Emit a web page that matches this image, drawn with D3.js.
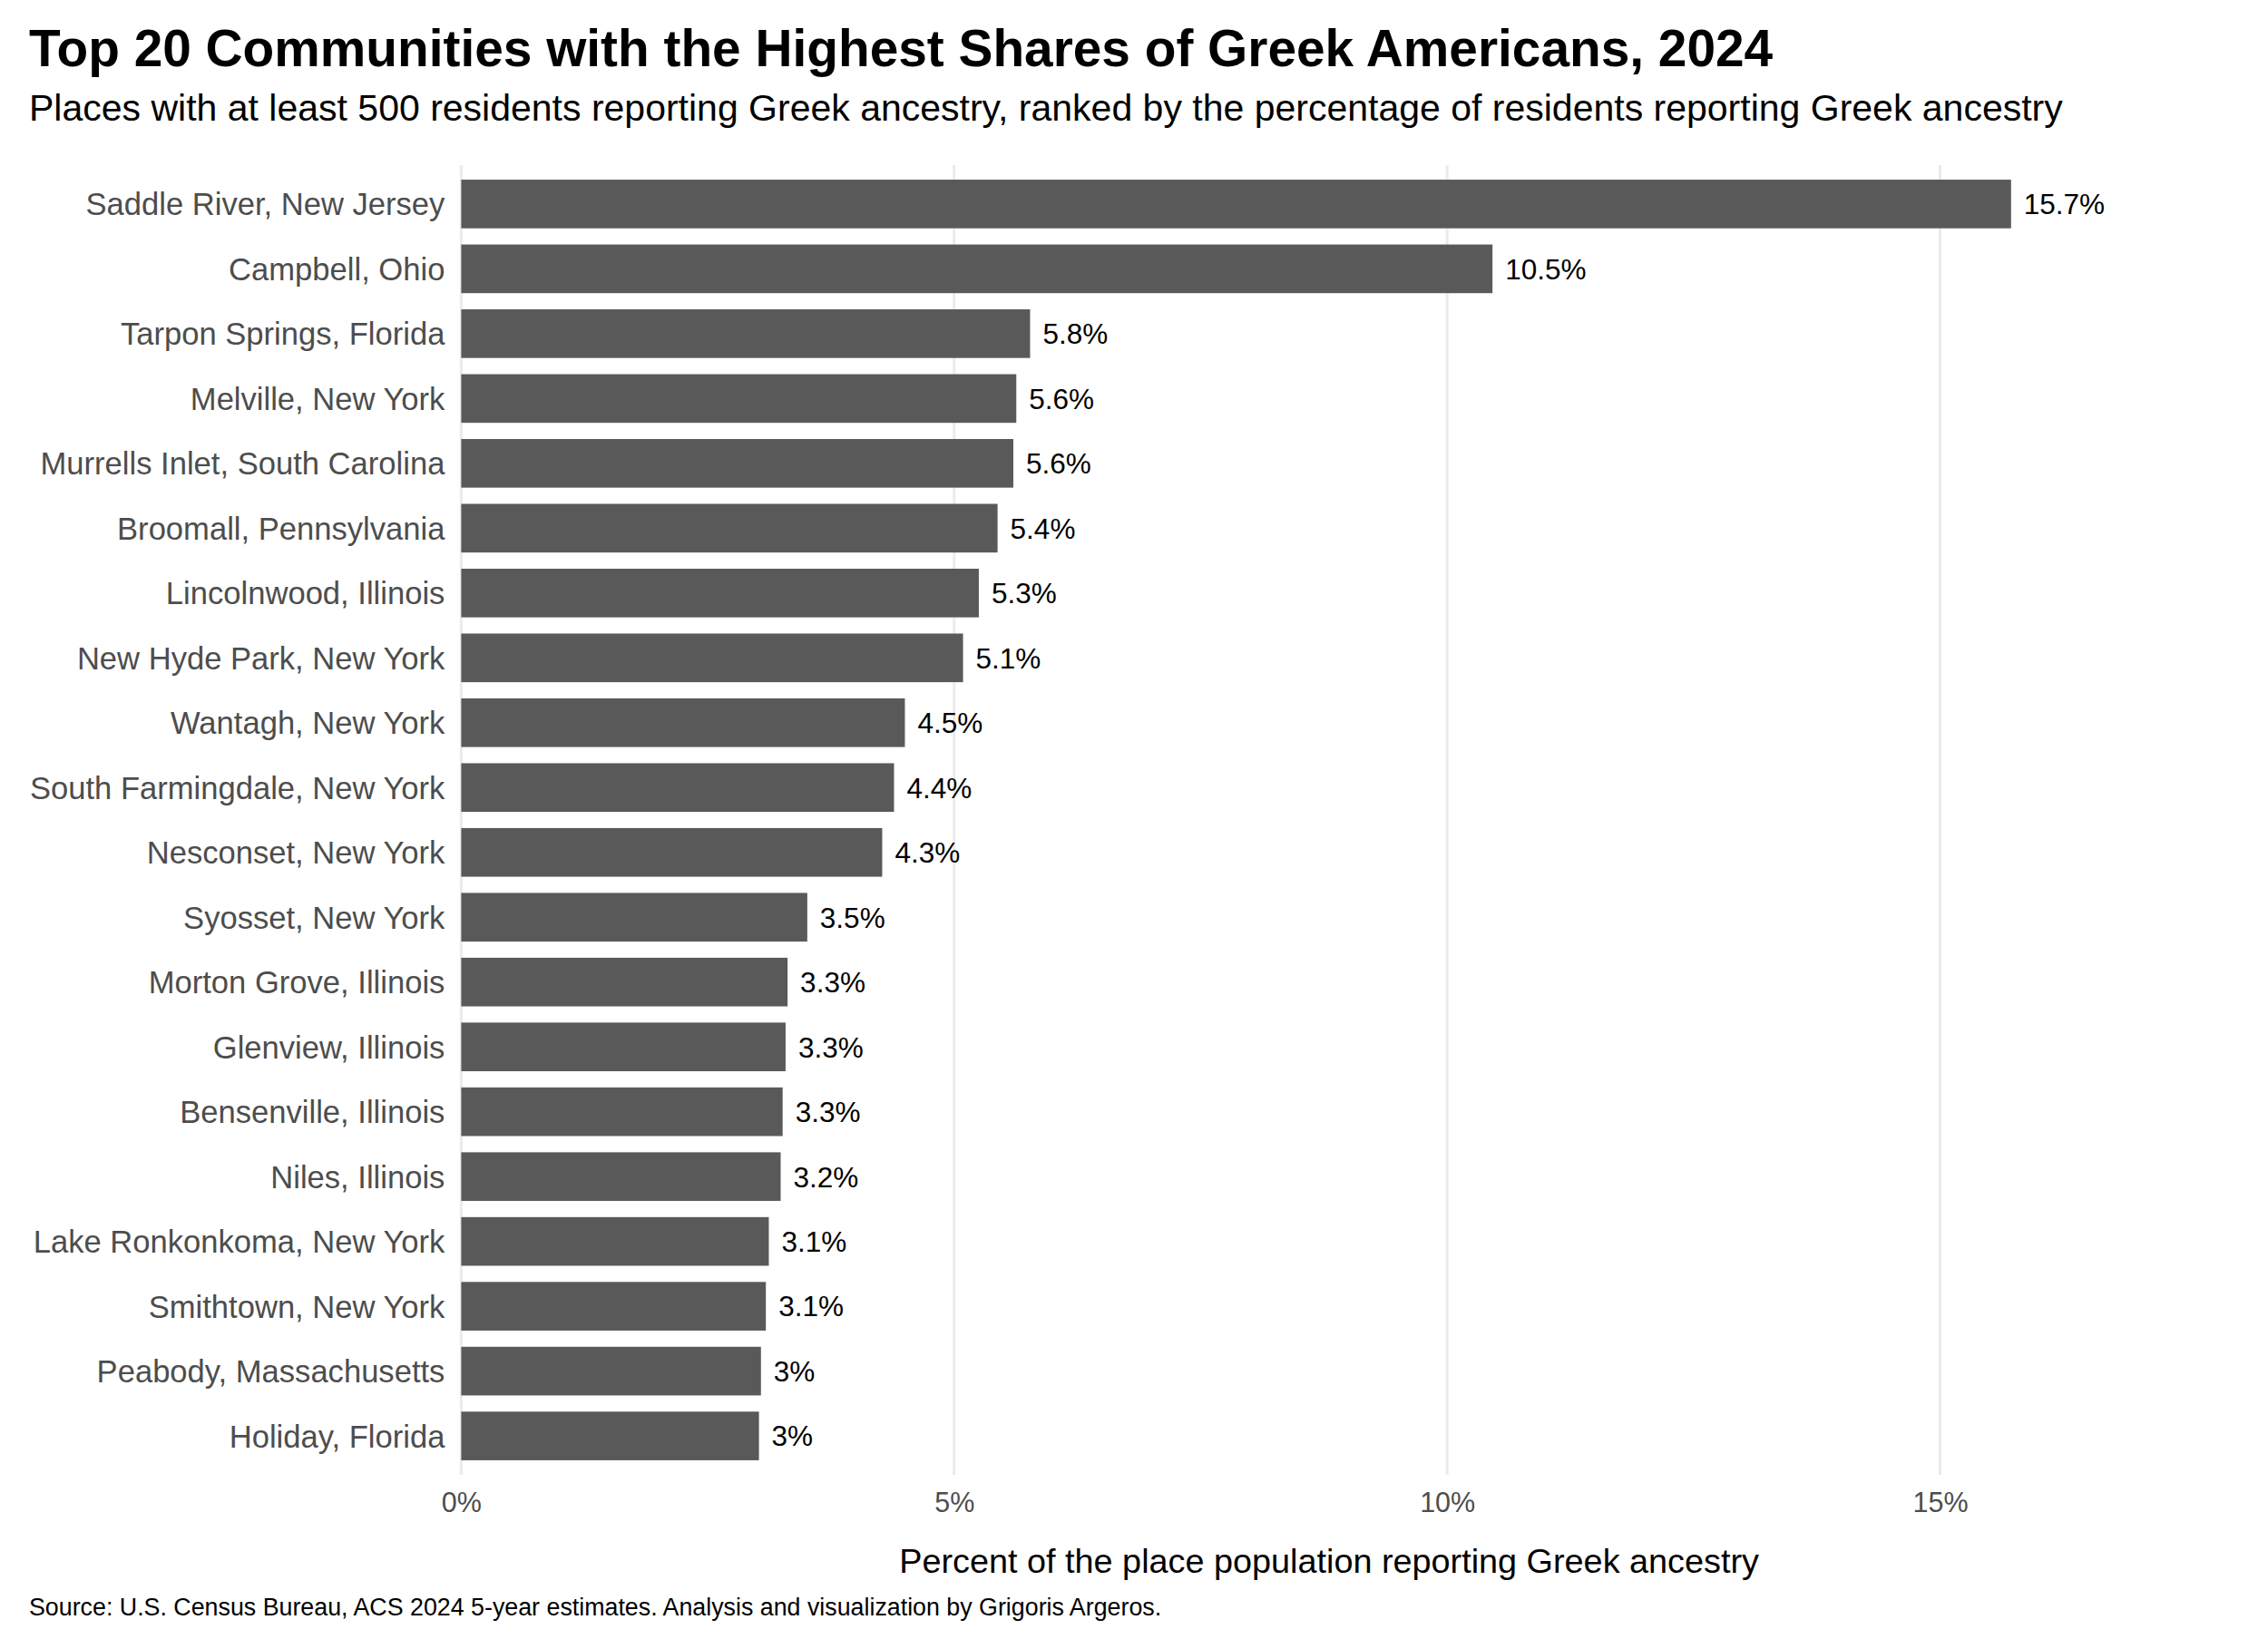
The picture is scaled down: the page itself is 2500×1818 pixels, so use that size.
<!DOCTYPE html>
<html>
<head>
<meta charset="utf-8">
<script src="https://cdn.jsdelivr.net/npm/d3@7"></script>
<style>
  html, body { margin: 0; padding: 0; background: #ffffff; }
  svg { display: block; font-family: "Liberation Sans", Arial, Helvetica, sans-serif; }
</style>
</head>
<body>
<svg id="chart" width="2500" height="1818"></svg>
<script>
const places = [
  "Saddle River, New Jersey",
  "Campbell, Ohio",
  "Tarpon Springs, Florida",
  "Melville, New York",
  "Murrells Inlet, South Carolina",
  "Broomall, Pennsylvania",
  "Lincolnwood, Illinois",
  "New Hyde Park, New York",
  "Wantagh, New York",
  "South Farmingdale, New York",
  "Nesconset, New York",
  "Syosset, New York",
  "Morton Grove, Illinois",
  "Glenview, Illinois",
  "Bensenville, Illinois",
  "Niles, Illinois",
  "Lake Ronkonkoma, New York",
  "Smithtown, New York",
  "Peabody, Massachusetts",
  "Holiday, Florida"
];
const sharePct = [15.72, 10.46, 5.77, 5.63, 5.60, 5.44, 5.25, 5.09, 4.50, 4.39,
                  4.27, 3.51, 3.31, 3.29, 3.26, 3.24, 3.12, 3.09, 3.04, 3.02];
const xTicks = [0, 5, 10, 15];
const titleText = "Top 20 Communities with the Highest Shares of Greek Americans, 2024";
const subtitleText = "Places with at least 500 residents reporting Greek ancestry, ranked by the percentage of residents reporting Greek ancestry";
const xTitleText = "Percent of the place population reporting Greek ancestry";
const captionText = "Source: U.S. Census Bureau, ACS 2024 5-year estimates. Analysis and visualization by Grigoris Argeros.";

const data = places.map((p, i) => ({ place: p, value: sharePct[i] }));

const svg = d3.select("#chart");
const panel = { left: 508.4, right: 2421.8, top: 182, bottom: 1626 };

const x = d3.scaleLinear()
  .domain([0, d3.max(sharePct) * 1.12])
  .range([panel.left, panel.right]);

const y = d3.scaleBand()
  .domain(places)
  .range([panel.top, panel.bottom])
  .paddingInner(0.25)
  .paddingOuter(0.225);

// Title & subtitle
svg.append("text")
  .attr("x", 32).attr("y", 73)
  .attr("font-size", 56.8).attr("font-weight", "bold").attr("fill", "#000")
  .text(titleText);
svg.append("text")
  .attr("x", 32).attr("y", 133)
  .attr("font-size", 41).attr("fill", "#000")
  .text(subtitleText);

// Gridlines
svg.append("g").selectAll("line")
  .data(xTicks)
  .join("line")
  .attr("x1", d => x(d)).attr("x2", d => x(d))
  .attr("y1", panel.top).attr("y2", panel.bottom)
  .attr("stroke", "#ebebeb").attr("stroke-width", 3);

// Bars
svg.append("g").selectAll("rect")
  .data(data)
  .join("rect")
  .attr("x", x(0))
  .attr("y", d => y(d.place))
  .attr("width", d => x(d.value) - x(0))
  .attr("height", y.bandwidth())
  .attr("fill", "#595959");

// Value labels
const fmt = v => (+v.toFixed(1)) + "%";
svg.append("g").selectAll("text")
  .data(data)
  .join("text")
  .attr("x", d => x(d.value) + 14)
  .attr("y", d => y(d.place) + y.bandwidth() / 2)
  .attr("dy", "0.36em")
  .attr("font-size", 31.5).attr("fill", "#000")
  .text(d => fmt(d.value));

// Y axis (category labels)
const yAxis = d3.axisLeft(y).tickSize(0).tickPadding(18);
const gy = svg.append("g")
  .attr("transform", `translate(${panel.left},0)`)
  .call(yAxis);
gy.select(".domain").remove();
gy.selectAll("text")
  .attr("font-size", 34.6)
  .attr("font-family", "Liberation Sans, Arial, Helvetica, sans-serif")
  .attr("fill", "#4d4d4d")
  .attr("dy", "0.36em");

// X axis
const xAxis = d3.axisBottom(x).tickValues(xTicks).tickFormat(d => d + "%").tickSize(0).tickPadding(0);
const gx = svg.append("g")
  .attr("transform", `translate(0,${panel.bottom})`)
  .call(xAxis);
gx.select(".domain").remove();
gx.selectAll("text")
  .attr("font-size", 30.5)
  .attr("font-family", "Liberation Sans, Arial, Helvetica, sans-serif")
  .attr("fill", "#4d4d4d")
  .attr("y", 41)
  .attr("dy", 0);

// X axis title
svg.append("text")
  .attr("x", (panel.left + panel.right) / 2).attr("y", 1734)
  .attr("text-anchor", "middle")
  .attr("font-size", 37.8).attr("fill", "#000")
  .text(xTitleText);

// Caption
svg.append("text")
  .attr("x", 32).attr("y", 1781)
  .attr("font-size", 26.8).attr("fill", "#000")
  .text(captionText);
</script>
</body>
</html>
